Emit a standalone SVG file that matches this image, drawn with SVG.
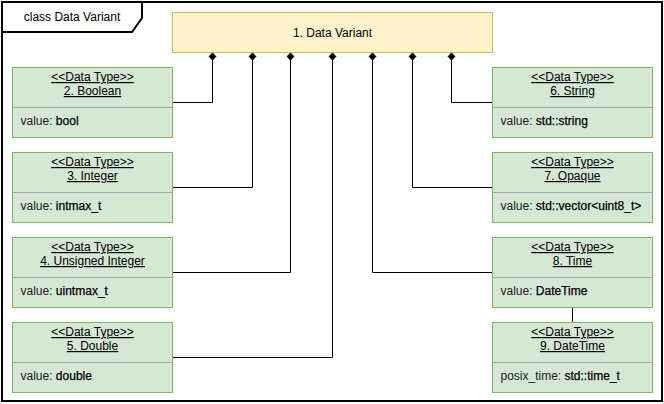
<svg xmlns="http://www.w3.org/2000/svg" width="664" height="404" viewBox="0 0 664 404">
<style>
text{font-family:"Liberation Sans",Arial,sans-serif;font-size:12px;fill:#000}
.c{text-anchor:middle}
.u{text-decoration:underline}
.box{fill:#d5e8d4;stroke:#82b366;stroke-width:1}
.div{stroke:#a6a6a6;stroke-width:1}
.lk{fill:none;stroke:#000;stroke-width:1}
.lbl{fill:#222}
.ty{fill:#000;stroke:#000;stroke-width:0.25}
</style>
<defs>
<marker id="dia" markerUnits="userSpaceOnUse" markerWidth="10" markerHeight="10" viewBox="-1 -5 10 10" refX="0" refY="0" orient="auto">
<path d="M0,0 L4,-3.5 L8,0 L4,3.5 Z" fill="#000" stroke="#000" stroke-width="0.5"/>
</marker>
</defs>
<rect x="0" y="0" width="664" height="404" fill="#fff"/>
<g id="frame">
<rect x="2" y="2" width="660" height="399" fill="none" stroke="#000" stroke-width="2"/>
<path d="M2,32 H132 L142,18 V2" fill="none" stroke="#000" stroke-width="2"/>
<text x="72" y="21" class="c">class Data Variant</text>
</g>
<g id="connectors">
<path class="lk" marker-start="url(#dia)" d="M212.5,52.5 V102.5 H172.5"/>
<path class="lk" marker-start="url(#dia)" d="M252.5,52.5 V187.5 H172.5"/>
<path class="lk" marker-start="url(#dia)" d="M290.5,52.5 V272.5 H172.5"/>
<path class="lk" marker-start="url(#dia)" d="M332.5,52.5 V357.5 H172.5"/>
<path class="lk" marker-start="url(#dia)" d="M372.5,52.5 V272.5 H492.5"/>
<path class="lk" marker-start="url(#dia)" d="M412.5,52.5 V187.5 H492.5"/>
<path class="lk" marker-start="url(#dia)" d="M451.5,52.5 V102.5 H492.5"/>
<path class="lk" d="M572.5,307.5 V322.5"/>
</g>
<g id="n1">
<rect x="172.5" y="12.5" width="320" height="40" fill="#fff2cc" stroke="#d6b656"/>
<text x="332.5" y="36.5" class="c">1. Data Variant</text>
</g>
<g id="n2">
<rect class="box" x="12.5" y="67.5" width="160" height="70"/>
<line class="div" x1="13" y1="107.5" x2="172" y2="107.5"/>
<text x="92.5" y="81" class="c u">&lt;&lt;Data Type&gt;&gt;</text>
<text x="92.5" y="95" class="c u">2. Boolean</text>
<text x="20.5" y="124.5"><tspan class="lbl">value: </tspan><tspan class="ty">bool</tspan></text>
</g>
<g id="n3">
<rect class="box" x="12.5" y="152.5" width="160" height="70"/>
<line class="div" x1="13" y1="192.5" x2="172" y2="192.5"/>
<text x="92.5" y="166" class="c u">&lt;&lt;Data Type&gt;&gt;</text>
<text x="92.5" y="180" class="c u">3. Integer</text>
<text x="20.5" y="209.5"><tspan class="lbl">value: </tspan><tspan class="ty">intmax_t</tspan></text>
</g>
<g id="n4">
<rect class="box" x="12.5" y="237.5" width="160" height="70"/>
<line class="div" x1="13" y1="277.5" x2="172" y2="277.5"/>
<text x="92.5" y="251" class="c u">&lt;&lt;Data Type&gt;&gt;</text>
<text x="92.5" y="265" class="c u">4. Unsigned Integer</text>
<text x="20.5" y="294.5"><tspan class="lbl">value: </tspan><tspan class="ty">uintmax_t</tspan></text>
</g>
<g id="n5">
<rect class="box" x="12.5" y="322.5" width="160" height="70"/>
<line class="div" x1="13" y1="362.5" x2="172" y2="362.5"/>
<text x="92.5" y="336" class="c u">&lt;&lt;Data Type&gt;&gt;</text>
<text x="92.5" y="350" class="c u">5. Double</text>
<text x="20.5" y="379.5"><tspan class="lbl">value: </tspan><tspan class="ty">double</tspan></text>
</g>
<g id="n6">
<rect class="box" x="492.5" y="67.5" width="160" height="70"/>
<line class="div" x1="493" y1="107.5" x2="652" y2="107.5"/>
<text x="572.5" y="81" class="c u">&lt;&lt;Data Type&gt;&gt;</text>
<text x="572.5" y="95" class="c u">6. String</text>
<text x="500.5" y="124.5"><tspan class="lbl">value: </tspan><tspan class="ty">std::string</tspan></text>
</g>
<g id="n7">
<rect class="box" x="492.5" y="152.5" width="160" height="70"/>
<line class="div" x1="493" y1="192.5" x2="652" y2="192.5"/>
<text x="572.5" y="166" class="c u">&lt;&lt;Data Type&gt;&gt;</text>
<text x="572.5" y="180" class="c u">7. Opaque</text>
<text x="500.5" y="209.5"><tspan class="lbl">value: </tspan><tspan class="ty">std::vector&lt;uint8_t&gt;</tspan></text>
</g>
<g id="n8">
<rect class="box" x="492.5" y="237.5" width="160" height="70"/>
<line class="div" x1="493" y1="277.5" x2="652" y2="277.5"/>
<text x="572.5" y="251" class="c u">&lt;&lt;Data Type&gt;&gt;</text>
<text x="572.5" y="265" class="c u">8. Time</text>
<text x="500.5" y="294.5"><tspan class="lbl">value: </tspan><tspan class="ty">DateTime</tspan></text>
</g>
<g id="n9">
<rect class="box" x="492.5" y="322.5" width="160" height="70"/>
<line class="div" x1="493" y1="362.5" x2="652" y2="362.5"/>
<text x="572.5" y="336" class="c u">&lt;&lt;Data Type&gt;&gt;</text>
<text x="572.5" y="350" class="c u">9. DateTime</text>
<text x="500.5" y="379.5"><tspan class="lbl">posix_time: </tspan><tspan class="ty">std::time_t</tspan></text>
</g>
</svg>
